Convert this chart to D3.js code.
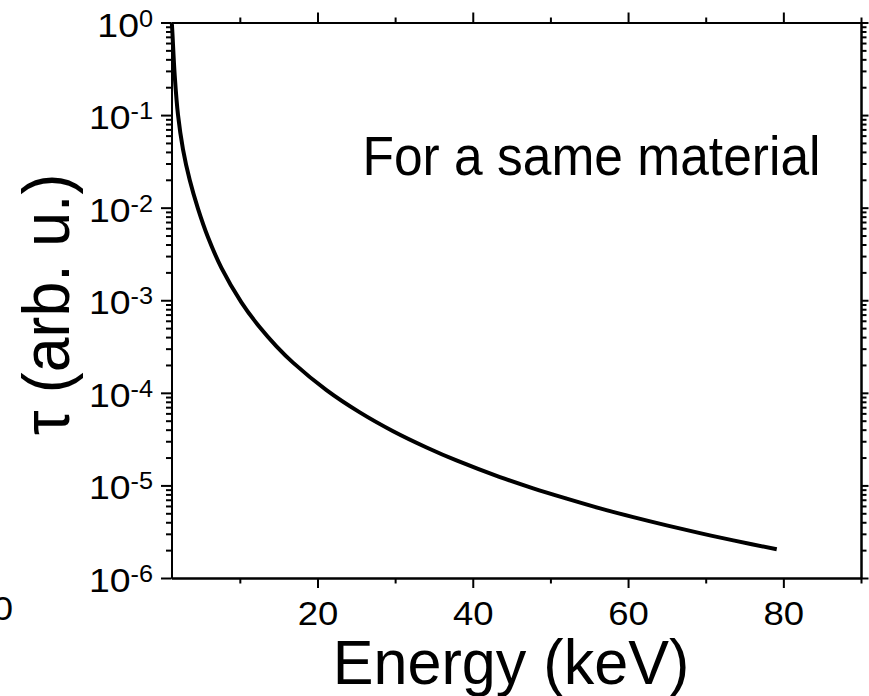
<!DOCTYPE html>
<html><head><meta charset="utf-8">
<script src="https://cdn.jsdelivr.net/npm/d3@7"></script>
<style>
body{margin:0;background:#fff}
svg{display:block}
text{font-family:Arial,"Liberation Sans",sans-serif;fill:#000}
</style>
</head><body>
<svg id="c" width="869" height="696"></svg>
<script>
// ---- data ----
const energy = [1.22, 1.26, 1.61, 2.04, 2.68, 3.54, 4.61, 5.9, 7.63, 10.2, 12.57, 14.72, 16.85, 21.16, 25.45, 29.74, 34.05, 37.9, 43.5, 47.78, 52.1, 56.4, 60.67, 64.97, 69.26, 73.55, 79.15];
const tau = [1.0, 0.93, 0.271, 0.100, 0.0427, 0.0200, 0.00977, 0.00479, 0.00224, 9.5e-4, 5.1e-4, 3.18e-4, 2.12e-4, 1.07e-4, 6.15e-5, 3.85e-5, 2.57e-5, 1.86e-5, 1.23e-5, 9.3e-6, 7.2e-6, 5.65e-6, 4.54e-6, 3.70e-6, 3.05e-6, 2.55e-6, 2.04e-6];
const xDomain = [1.2, 90];
const xMajorTicks = [20, 40, 60, 80];
const xMinorTicks = [10, 30, 50, 70, 90];
const yDecadeExponents = [0, -1, -2, -3, -4, -5, -6];
const yMinorMultipliers = [2, 3, 4, 5, 6, 7, 8, 9];
const xTitle = "Energy (keV)";
const yTitle = "τ (arb. u.)";
const annotation = "For a same material";
const strayLabel = "0";

// ---- layout ----
const L = 171.5, R = 861, T = 22.5, B = 578;
const svg = d3.select("#c");
const x = d3.scaleLinear().domain(xDomain).range([L, R]);
const y = d3.scaleLog().domain([1e-6, 1]).range([B, T]);

const yMajor = yDecadeExponents.map(e => Math.pow(10, e));
const yMinor = [];
yDecadeExponents.filter(e => e < 0).forEach(e => yMinorMultipliers.forEach(m => yMinor.push(m * Math.pow(10, e))));

function styleAxis(g) {
  g.selectAll("path.domain").attr("stroke", "#000").attr("stroke-width", 2);
  g.selectAll(".tick line").attr("stroke", "#000").attr("stroke-width", 2);
  g.selectAll(".tick text").remove();
}

// bottom
svg.append("g").attr("transform", `translate(0,${B})`)
  .call(d3.axisBottom(x).tickValues(xMinorTicks).tickSize(5.5).tickSizeOuter(0).tickFormat("")).call(styleAxis);
const gxb = svg.append("g").attr("transform", `translate(0,${B})`)
  .call(d3.axisBottom(x).tickValues(xMajorTicks).tickSize(10).tickSizeOuter(0));
gxb.selectAll("path.domain").attr("stroke", "#000").attr("stroke-width", 2);
gxb.selectAll(".tick line").attr("stroke", "#000").attr("stroke-width", 2);
gxb.selectAll(".tick text")
  .attr("y", 0).attr("dy", 0)
  .attr("transform", "translate(0,47) scale(1.09,1)")
  .attr("font-size", 33.5).attr("font-family", "Arial, 'Liberation Sans', sans-serif").attr("fill", "#000");

// top
svg.append("g").attr("transform", `translate(0,${T})`)
  .call(d3.axisTop(x).tickValues(xMinorTicks).tickSize(5).tickSizeOuter(0)).call(styleAxis);
svg.append("g").attr("transform", `translate(0,${T})`)
  .call(d3.axisTop(x).tickValues(xMajorTicks).tickSize(10).tickSizeOuter(0)).call(styleAxis);

// left
svg.append("g").attr("transform", `translate(${L},0)`)
  .call(d3.axisLeft(y).tickValues(yMinor).tickSize(5.5).tickSizeOuter(0)).call(styleAxis);
svg.append("g").attr("transform", `translate(${L},0)`)
  .call(d3.axisLeft(y).tickValues(yMajor).tickSize(10.5).tickSizeOuter(0)).call(styleAxis);

// right
svg.append("g").attr("transform", `translate(${R},0)`)
  .call(d3.axisRight(y).tickValues(yMinor).tickSize(5.5).tickSizeOuter(0)).call(styleAxis);
svg.append("g").attr("transform", `translate(${R},0)`)
  .call(d3.axisRight(y).tickValues(yMajor).tickSize(7.5).tickSizeOuter(0)).call(styleAxis);

// y tick labels 10^n
yDecadeExponents.forEach(e => {
  const t = svg.append("text")
    .attr("text-anchor", "end")
    .attr("transform", `translate(153,${y(Math.pow(10, e)) + 14}) scale(1.1,1)`)
    .attr("font-size", 34);
  t.append("tspan").text("10");
  t.append("tspan").attr("font-size", 23).attr("dy", -10).text(String(e));
});

// curve
const pts = energy.map((e, i) => [e, tau[i]]);
svg.append("path").datum(pts)
  .attr("fill", "none").attr("stroke", "#000").attr("stroke-width", 4)
  .attr("stroke-linejoin", "round").attr("stroke-linecap", "butt")
  .attr("d", d3.line().x(d => x(d[0])).y(d => y(d[1])).curve(d3.curveCatmullRom.alpha(0.5)));

// annotation
svg.append("text").attr("transform", "translate(362.5,175) scale(0.92,1)")
  .attr("font-size", 56).text(annotation);

// axis titles
svg.append("text").attr("text-anchor", "middle")
  .attr("transform", "translate(511,684) scale(0.97,1)")
  .attr("font-size", 63).text(xTitle);
svg.append("text").attr("text-anchor", "middle")
  .attr("transform", "translate(69,304.5) rotate(-90) scale(0.95,1)")
  .attr("font-size", 66).text(yTitle);

// stray partial label at the bottom-left edge
svg.append("text").attr("text-anchor", "middle")
  .attr("transform", "translate(3,620) scale(1.09,1)")
  .attr("font-size", 33.5).text(strayLabel);
</script>
</body></html>
